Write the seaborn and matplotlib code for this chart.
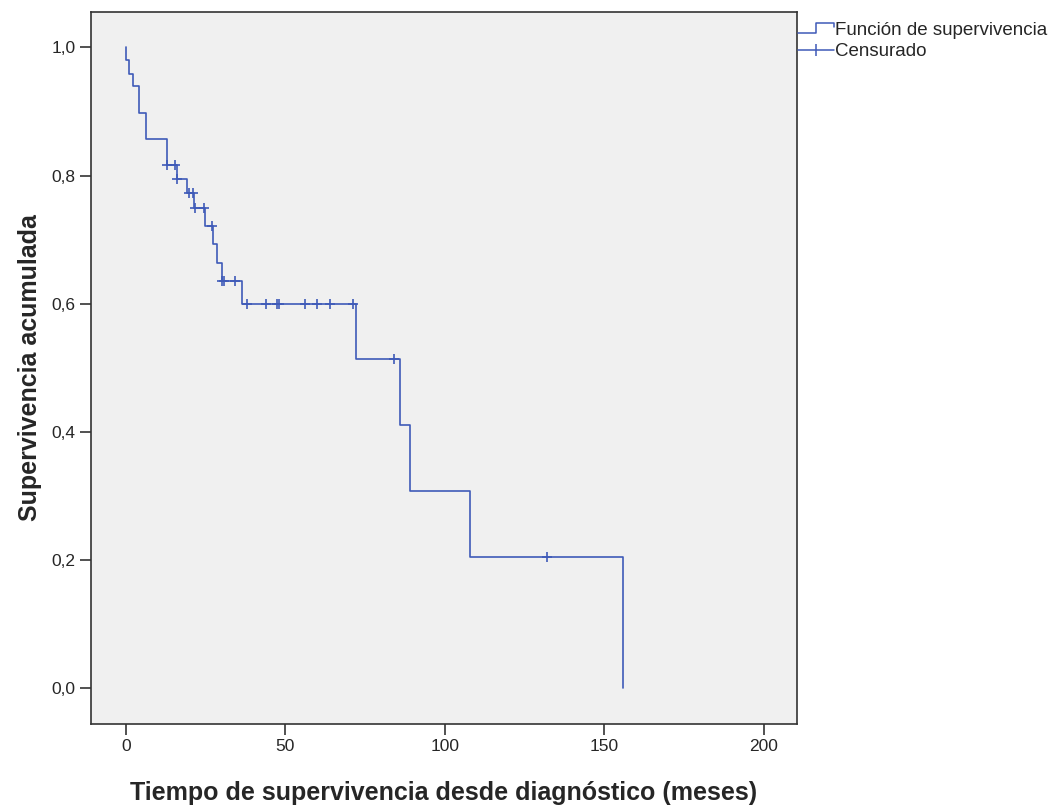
import numpy as np
import matplotlib
matplotlib.use("Agg")
import matplotlib.pyplot as plt
import seaborn as sns
from matplotlib.lines import Line2D
from matplotlib.legend_handler import HandlerBase
from matplotlib.ticker import FuncFormatter

# --------------------------------
# Data
# --------------------------------
# step points of the Kaplan-Meier curve (time in months, cumulative survival)
step_times = [0, 0, 0.9, 2.1, 4.2, 6.1, 12.7, 15.9, 19.1, 21.3, 24.8, 27.2,
              28.4, 30.0, 36.3, 72.0, 86.0, 89.0, 108.0, 156.0]
step_surv = [1.0, 0.980, 0.959, 0.939, 0.898, 0.857, 0.816, 0.795, 0.772,
             0.750, 0.721, 0.693, 0.664, 0.636, 0.600, 0.514, 0.411, 0.308,
             0.205, 0.0]
# censored observations
censor_times = [12.8, 15.4, 16.0, 19.6, 20.9, 21.7, 24.6, 26.9, 30.1, 30.6,
                34.2, 37.9, 44.0, 47.3, 48.1, 56.2, 60.0, 64.0, 71.2, 84.1,
                132.1]

x_ticks = [0, 50, 100, 150, 200]
y_ticks = [0.0, 0.2, 0.4, 0.6, 0.8, 1.0]

x_label = "Tiempo de supervivencia desde diagnóstico (meses)"
y_label = "Supervivencia acumulada"
legend_labels = ["Función de supervivencia", "Censurado"]

line_color = "#3f5ab8"

# --------------------------------
# Style
# --------------------------------
sns.set_style("white")
plt.rcParams['font.family'] = ['Liberation Sans', 'DejaVu Sans']

fig = plt.figure(figsize=(10.57, 8.08), dpi=100)
ax = fig.add_axes([0.0861, 0.104, 0.668, 0.881])
ax.set_facecolor("#f0f0f0")

# survival level at each censored time (taken from the step curve)
st = np.array(step_times)
ss = np.array(step_surv)
idx = np.searchsorted(st, censor_times, side='right') - 1
censor_surv = ss[idx]

sns.lineplot(x=step_times, y=step_surv, ax=ax, estimator=None, sort=False,
             drawstyle='steps-post', color=line_color, linewidth=1.2)
sns.scatterplot(x=censor_times, y=censor_surv, ax=ax, marker='+', s=60,
                color=line_color, linewidth=1.2, zorder=3)

ax.set_xlim(-11, 210.5)
ax.set_ylim(-0.056, 1.055)
ax.set_xticks(x_ticks)
ax.set_yticks(y_ticks)
ax.yaxis.set_major_formatter(FuncFormatter(lambda v, p: f"{v:.1f}".replace('.', ',')))
ax.tick_params(axis='both', direction='out', length=8, width=1.2,
               color='#333333', labelsize=12.5, pad=3, bottom=True, left=True)
for sp in ax.spines.values():
    sp.set_color('#333333')
    sp.set_linewidth(1.2)

ax.set_xlabel(x_label, fontsize=18, fontweight='bold', labelpad=19)
ax.set_ylabel(y_label, fontsize=18, fontweight='bold', labelpad=7)


# step-shaped legend handle
class StepHandler(HandlerBase):
    def create_artists(self, legend, orig_handle, xdescent, ydescent,
                       width, height, fontsize, trans):
        xs = np.array([0, 0.5, 0.5, 1.0, 1.0]) * width - xdescent
        ys = np.array([0.15, 0.15, 0.95, 0.95, 0.6]) * height - ydescent
        ln = Line2D(xs, ys, color=orig_handle.get_color(),
                    linewidth=orig_handle.get_linewidth())
        ln.set_transform(trans)
        return [ln]


h_surv = Line2D([], [], color=line_color, linewidth=1.1)
h_cens = Line2D([], [], color=line_color, linewidth=1.1, marker='|',
                markersize=9, markeredgewidth=1.1)
ax.legend([h_surv, h_cens], legend_labels, loc='upper left',
          bbox_to_anchor=(0.992, 0.995), frameon=False, fontsize=13.5,
          handlelength=1.9, handletextpad=0.1, borderaxespad=0,
          borderpad=0.35, labelspacing=0.2,
          handler_map={h_surv: StepHandler()})

plt.savefig("out.png", dpi=100)
